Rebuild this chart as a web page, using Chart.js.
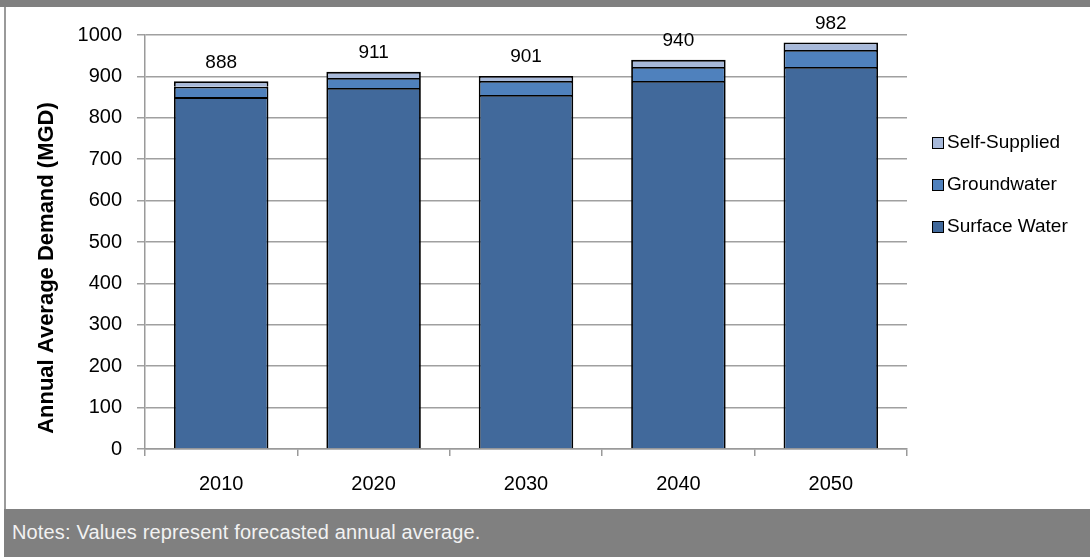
<!DOCTYPE html>
<html>
<head>
<meta charset="utf-8">
<script src="https://cdn.jsdelivr.net/npm/chart.js@4/dist/chart.umd.min.js"></script>
<style>
  html, body { margin: 0; padding: 0; background: #ffffff; width: 1090px; height: 557px; overflow: hidden; }
  #topband { position: absolute; left: 0; top: 0; width: 1090px; height: 7px; background: #808080; }
  #leftline { position: absolute; left: 4px; top: 7px; width: 2px; height: 502px; background: #9a9a9a; }
  #wrap { position: absolute; left: 6px; top: 7px; width: 1084px; height: 502px; }
  #footer { position: absolute; left: 4px; top: 509px; width: 1086px; height: 48px; background: #808080;
            color: #f2f2f2; font-family: "Liberation Sans", Arial, sans-serif; font-size: 20px; line-height: 46px;
            padding-left: 8px; box-sizing: border-box; letter-spacing: 0.15px; }
</style>
</head>
<body>
<div id="topband"></div>
<div id="leftline"></div>
<div id="wrap"><canvas id="c"></canvas></div>
<div id="footer">Notes: Values represent forecasted annual average.</div>
<script>
const categories = ["2010", "2020", "2030", "2040", "2050"];
const surfaceWater = [850, 872, 855, 889, 923];
const groundwater = [25, 24, 34, 34, 41];
const selfSupplied = [13, 15, 12, 17, 18];
const yTitle = "Annual Average Demand (MGD)";

const FONT = '"Liberation Sans", Arial, sans-serif';

const totalsPlugin = {
  id: 'totals',
  afterDatasetsDraw(chart) {
    const ctx = chart.ctx;
    const n = chart.data.labels.length;
    const lastMeta = chart.getDatasetMeta(chart.data.datasets.length - 1);
    ctx.save();
    ctx.font = '19px ' + FONT;
    ctx.fillStyle = '#000';
    ctx.textAlign = 'center';
    ctx.textBaseline = 'middle';
    for (let i = 0; i < n; i++) {
      let total = 0;
      chart.data.datasets.forEach(ds => total += ds.data[i]);
      const el = lastMeta.data[i];
      const y = chart.scales.y.getPixelForValue(total);
      ctx.fillText(String(total), el.x, y - 19);
    }
    ctx.restore();
  }
};

const extrasPlugin = {
  id: 'extras',
  afterDraw(chart) {
    const ctx = chart.ctx;
    ctx.save();
    ctx.font = 'bold 22px ' + FONT;
    ctx.fillStyle = '#000';
    ctx.textAlign = 'center';
    ctx.textBaseline = 'middle';
    ctx.translate(41, 261);
    ctx.rotate(-Math.PI / 2);
    ctx.fillText(yTitle, 0, 0);
    ctx.restore();

    ctx.save();
    const ds = chart.data.datasets.slice().reverse();
    const ys = [136, 178, 220];
    ctx.font = '19px ' + FONT;
    ctx.textAlign = 'left';
    ctx.textBaseline = 'middle';
    ds.forEach((d, k) => {
      const y = ys[k];
      ctx.fillStyle = d.backgroundColor;
      ctx.fillRect(926, y - 6, 12, 12);
      ctx.strokeStyle = '#000';
      ctx.lineWidth = 1;
      ctx.strokeRect(926.5, y - 5.5, 11, 11);
      ctx.fillStyle = '#000';
      ctx.fillText(d.label, 941, y);
    });
    ctx.restore();
  }
};

new Chart(document.getElementById('c'), {
  type: 'bar',
  data: {
    labels: categories,
    datasets: [
      { label: 'Surface Water', data: surfaceWater, backgroundColor: '#41699b', borderColor: '#000', borderWidth: 1.8 },
      { label: 'Groundwater', data: groundwater, backgroundColor: '#4f81bd', borderColor: '#000', borderWidth: 1.8 },
      { label: 'Self-Supplied', data: selfSupplied, backgroundColor: '#a7b9da', borderColor: '#000', borderWidth: 1.8 }
    ]
  },
  options: {
    responsive: true,
    maintainAspectRatio: false,
    devicePixelRatio: 1,
    animation: false,
    layout: { padding: { top: 28, right: 183, bottom: 0, left: 0 } },
    datasets: { bar: { barPercentage: 0.62, categoryPercentage: 1.0 } },
    plugins: { legend: { display: false }, tooltip: { enabled: false } },
    scales: {
      x: {
        stacked: true,
        afterFit(s) { s.height = 60; },
        grid: { display: true, drawOnChartArea: false, drawTicks: true, tickLength: 7, offset: true, color: '#9a9a9a', lineWidth: 1.5 },
        border: { display: true, color: '#9a9a9a', width: 1.5 },
        ticks: { color: '#000', font: { family: FONT, size: 20 }, padding: 16 }
      },
      y: {
        stacked: true,
        min: 0,
        max: 1000,
        afterFit(s) { s.width = 139; },
        grid: { color: '#a0a0a0', lineWidth: 1.5, tickLength: 8, drawTicks: true },
        border: { display: true, color: '#9a9a9a', width: 1.5 },
        ticks: { stepSize: 100, color: '#000', font: { family: FONT, size: 20 }, padding: 15,
                 callback: (v) => String(v) }
      }
    }
  },
  plugins: [totalsPlugin, extrasPlugin]
});
</script>
</body>
</html>
